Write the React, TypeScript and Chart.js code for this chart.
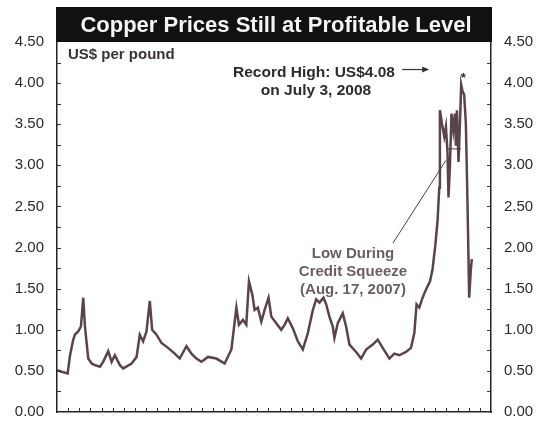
import React, { useEffect, useRef } from "react";
import { Chart, registerables } from "chart.js";

Chart.register(...registerables);

// Monthly-ish copper price readings, US$ per pound
const years = [
  1972.0, 1972.42, 1972.96, 1973.17, 1973.46, 1973.61, 1973.91, 1974.15, 1974.36, 1974.51,
  1974.81, 1975.11, 1975.41, 1975.86, 1976.15, 1976.6, 1976.91, 1977.2, 1977.65, 1977.95,
  1978.7, 1979.15, 1979.44, 1979.74, 1980.04, 1980.34, 1980.55, 1980.94, 1981.39, 1981.98,
  1982.58, 1983.03, 1983.63, 1984.08, 1984.53, 1984.98, 1985.57, 1986.32, 1987.07, 1987.67,
  1988.12, 1988.35, 1988.71, 1989.01, 1989.25, 1989.55, 1989.76, 1990.05, 1990.36, 1990.65,
  1991.01, 1991.26, 1991.7, 1992.15, 1992.45, 1992.74, 1993.19, 1993.64, 1994.09, 1994.54,
  1994.99, 1995.29, 1995.59, 1995.95, 1996.19, 1996.48, 1996.78, 1996.93, 1997.23, 1997.68,
  1997.98, 1998.28, 1998.88, 1999.33, 1999.78, 2000.37, 2000.82, 2001.27, 2001.87, 2002.31,
  2002.76, 2003.36, 2003.81, 2004.11, 2004.31, 2004.56, 2004.85, 2005.16, 2005.52, 2005.75,
  2005.99, 2006.2, 2006.35, 2006.41, 2006.59, 2006.8, 2006.95, 2007.09, 2007.18, 2007.31,
  2007.45, 2007.61, 2007.76, 2007.85, 2007.94, 2008.08, 2008.21, 2008.32, 2008.44, 2008.59,
  2008.74, 2008.89, 2009.04, 2009.19, 2009.28,
];

const prices = [
  0.51, 0.49, 0.47, 0.69, 0.88, 0.94, 0.98, 1.04, 1.39, 1.04,
  0.65, 0.59, 0.57, 0.55, 0.61, 0.74, 0.61, 0.69, 0.57, 0.53,
  0.59, 0.67, 0.94, 0.86, 0.98, 1.35, 1.0, 0.94, 0.84, 0.78,
  0.71, 0.65, 0.8, 0.71, 0.65, 0.61, 0.67, 0.65, 0.59, 0.76,
  1.27, 1.06, 1.12, 1.06, 1.59, 1.43, 1.24, 1.27, 1.1, 1.24,
  1.39, 1.16, 1.08, 1.0, 1.06, 1.14, 1.02, 0.86, 0.76, 0.96,
  1.24, 1.37, 1.33, 1.39, 1.31, 1.16, 1.04, 0.9, 1.08, 1.2,
  1.04, 0.82, 0.73, 0.65, 0.76, 0.82, 0.88, 0.78, 0.65, 0.71,
  0.69, 0.73, 0.78, 0.96, 1.31, 1.27, 1.39, 1.49, 1.59, 1.74,
  2.02, 2.33, 2.73, 3.67, 3.51, 3.35, 3.47, 3.16, 2.61, 3.0,
  3.63, 3.43, 3.63, 3.24, 3.67, 3.04, 3.51, 3.98, 3.9, 3.86,
  3.51, 2.53, 1.39, 1.74, 1.86,
];

const yearMin = 1972;
const yearMax = 2011;
const priceMin = 0;
const priceMax = 4.5;
const labelStep = 0.5;
const minorStep = 0.25;

const TITLE = "Copper Prices Still at Profitable Level";
const UNIT = "US$ per pound";
const recordLines = ["Record High: US$4.08", "on July 3, 2008"];
const recordYear = 2008.5;
const recordPrice = 4.08;
const squeezeLines = ["Low During", "Credit Squeeze", "(Aug. 17, 2007)"];
const squeezeTip = { year: 2006.95, price: 3.06 };
const squeezeBand = { from: 2007.05, to: 2008.3, price: 3.2 };

const FONT = '"Liberation Sans", Arial, Helvetica, sans-serif';

const decor = {
  id: "decor",
  afterDraw(chart: any) {
    const { ctx, chartArea: a, scales } = chart;
    const xs = scales.x;
    const ys = scales.y;
    const seg = (x1: number, y1: number, x2: number, y2: number) => {
      ctx.beginPath();
      ctx.moveTo(x1, y1);
      ctx.lineTo(x2, y2);
      ctx.stroke();
    };
    ctx.save();

    // title bar
    ctx.fillStyle = "#111";
    ctx.fillRect(a.left - 1, 7, a.right - a.left + 2, a.top - 7);
    ctx.fillStyle = "#f4f4f4";
    ctx.font = `bold 22px ${FONT}`;
    ctx.textAlign = "center";
    ctx.textBaseline = "alphabetic";
    ctx.fillText(TITLE, (a.left + a.right) / 2 + 2, 32);

    // inward tick marks
    ctx.strokeStyle = "#333";
    ctx.lineWidth = 1;
    for (let v = priceMin + minorStep; v < priceMax; v += minorStep) {
      const py = Math.round(ys.getPixelForValue(v)) + 0.5;
      seg(a.left, py, a.left + 4, py);
      seg(a.right - 4, py, a.right, py);
    }
    for (let yr = yearMin + 1; yr < yearMax; yr++) {
      const px = Math.round(xs.getPixelForValue(yr)) + 0.5;
      seg(px, a.bottom, px, a.bottom - 4);
    }

    // unit label
    ctx.fillStyle = "#3a3335";
    ctx.font = `bold 15px ${FONT}`;
    ctx.textAlign = "left";
    ctx.fillText(UNIT, a.left + 11, a.top + 17);

    // record high note
    const sx = xs.getPixelForValue(recordYear);
    const sy = ys.getPixelForValue(recordPrice);
    ctx.fillStyle = "#2c2c2c";
    ctx.font = `bold 15.5px ${FONT}`;
    ctx.textAlign = "center";
    ctx.fillText(recordLines[0], a.left + 257, 77);
    ctx.fillText(recordLines[1], a.left + 259, 95);
    ctx.font = `bold 13px ${FONT}`;
    ctx.textBaseline = "middle";
    ctx.fillText("*", sx, sy + 2);
    ctx.textBaseline = "alphabetic";

    // arrow toward the record
    const ay = sy - 7;
    ctx.strokeStyle = "#333";
    ctx.lineWidth = 1.2;
    seg(sx - 61, ay, sx - 38, ay);
    ctx.fillStyle = "#333";
    ctx.beginPath();
    ctx.moveTo(sx - 34, ay);
    ctx.lineTo(sx - 41, ay - 3);
    ctx.lineTo(sx - 41, ay + 3);
    ctx.closePath();
    ctx.fill();

    // credit squeeze note
    ctx.fillStyle = "#6c5d62";
    ctx.font = `bold 15px ${FONT}`;
    ctx.textAlign = "center";
    const cx = a.left + 296;
    squeezeLines.forEach((t, i) => ctx.fillText(t, cx, 258 + i * 18));
    ctx.strokeStyle = "#444";
    ctx.lineWidth = 1;
    seg(cx + 40, 243, xs.getPixelForValue(squeezeTip.year), ys.getPixelForValue(squeezeTip.price));
    const by = ys.getPixelForValue(squeezeBand.price);
    seg(xs.getPixelForValue(squeezeBand.from), by, xs.getPixelForValue(squeezeBand.to), by);

    ctx.restore();
  },
};

export default function App() {
  const ref = useRef<HTMLCanvasElement | null>(null);

  useEffect(() => {
    if (!ref.current) return;
    const tickFont = { family: FONT, size: 15 };
    const chart = new Chart(ref.current, {
      type: "line",
      data: {
        datasets: [
          {
            data: years.map((yr, i) => ({ x: yr, y: prices[i] })),
            borderColor: "#5b434a",
            borderWidth: 2.5,
            pointRadius: 0,
            tension: 0,
            fill: false,
          },
        ],
      },
      options: {
        animation: false,
        responsive: false,
        devicePixelRatio: 1,
        layout: { padding: { top: 42, left: 0, right: 0, bottom: 0 } },
        plugins: { legend: { display: false }, tooltip: { enabled: false }, title: { display: false } },
        scales: {
          x: {
            type: "linear",
            min: yearMin,
            max: yearMax,
            ticks: { display: false },
            grid: { display: false, drawTicks: false },
            border: { display: true, color: "#222", width: 1.5 },
            afterFit: (s: any) => {
              s.height = 9;
            },
          },
          y: {
            position: "left",
            min: priceMin,
            max: priceMax,
            ticks: {
              stepSize: labelStep,
              padding: 13,
              color: "#2a2a2a",
              font: tickFont,
              callback: (v: any) => Number(v).toFixed(2),
            },
            grid: { display: false, drawTicks: false },
            border: { display: true, color: "#222", width: 1.5 },
            afterFit: (s: any) => {
              s.width = 57;
            },
          },
          y1: {
            position: "right",
            min: priceMin,
            max: priceMax,
            ticks: {
              stepSize: labelStep,
              padding: 13,
              color: "#2a2a2a",
              font: tickFont,
              callback: (v: any) => Number(v).toFixed(2),
            },
            grid: { display: false, drawTicks: false },
            border: { display: true, color: "#222", width: 1.5 },
            afterFit: (s: any) => {
              s.width = 46;
            },
          },
        },
      },
      plugins: [decor],
    });
    return () => chart.destroy();
  }, []);

  return (
    <canvas
      ref={ref}
      width={537}
      height={434}
      style={{ position: "fixed", left: 0, top: 0, width: 537, height: 434, background: "#fff" }}
    />
  );
}
